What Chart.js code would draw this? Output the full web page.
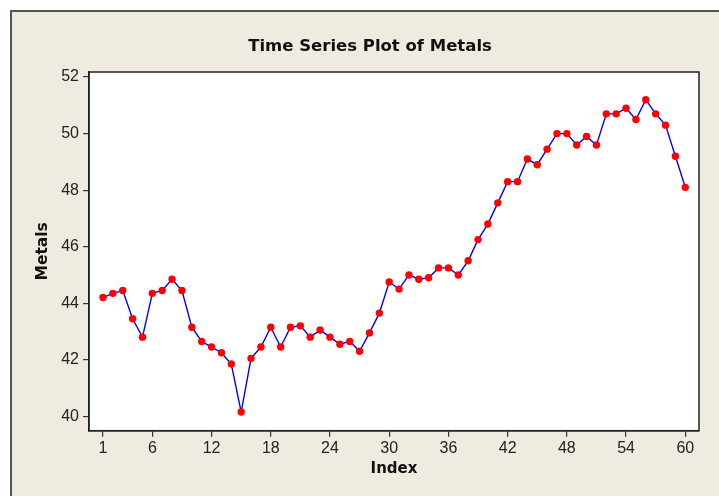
<!DOCTYPE html>
<html>
<head>
<meta charset="utf-8">
<script src="https://cdn.jsdelivr.net/npm/chart.js@4"></script>
<style>
  html, body { margin: 0; padding: 0; background: #fff; }
  #frame { position: absolute; left: 10px; top: 10px; width: 709px; height: 486px;
           background: #efebe1; border-top: 2px solid #555; border-left: 2px solid #555; box-sizing: border-box; }
  #c { position: absolute; left: 0; top: 0; }
</style>
</head>
<body>
<div id="frame"></div>
<canvas id="c" width="719" height="496"></canvas>
<script>
  // valores (Index 1..60)
  const INDEX = Array.from({ length: 60 }, (_, i) => i + 1);
  const METALS = [
    44.2, 44.35, 44.45, 43.45, 42.8, 44.35, 44.45, 44.85, 44.45, 43.15,
    42.65, 42.45, 42.25, 41.85, 40.15, 42.05, 42.45, 43.15, 42.45, 43.15,
    43.2, 42.8, 43.05, 42.8, 42.55, 42.65, 42.3, 42.95, 43.65, 44.75,
    44.5, 45.0, 44.85, 44.9, 45.25, 45.25, 45.0, 45.5, 46.25, 46.8,
    47.55, 48.3, 48.3, 49.1, 48.9, 49.45, 50.0, 50.0, 49.6, 49.9,
    49.6, 50.7, 50.7, 50.9, 50.5, 51.2, 50.7, 50.3, 49.2, 48.1
  ];
  const X_TICKS = [1, 6, 12, 18, 24, 30, 36, 42, 48, 54, 60];
  const Y_TICKS = [40, 42, 44, 46, 48, 50, 52];
  const TITULO = 'Time Series Plot of Metals';

  const tickFont = { family: 'Liberation Sans', size: 16 };
  const boldFont = (size) => ({ family: 'DejaVu Sans', size, weight: 'bold' });

  // fundo branco da area do grafico, moldura e titulo (centralizado como no Minitab)
  const plotFrame = {
    id: 'plotFrame',
    beforeDraw(chart) {
      const { ctx, chartArea: a } = chart;
      ctx.save();
      ctx.fillStyle = '#fff';
      ctx.fillRect(a.left, a.top, a.right - a.left, a.bottom - a.top);
      ctx.restore();
    },
    afterDraw(chart) {
      const { ctx, chartArea: a } = chart;
      ctx.save();
      ctx.strokeStyle = '#222';
      ctx.lineWidth = 1.5;
      ctx.strokeRect(a.left, a.top, a.right - a.left, a.bottom - a.top);
      ctx.fillStyle = '#111';
      ctx.font = 'bold 16.5px "DejaVu Sans"';
      ctx.textAlign = 'center';
      ctx.textBaseline = 'middle';
      ctx.fillText(TITULO, 370, 47);
      ctx.restore();
    }
  };

  new Chart(document.getElementById('c'), {
    type: 'line',
    data: {
      datasets: [{
        data: INDEX.map((x, i) => ({ x, y: METALS[i] })),
        borderColor: '#0000ff',
        borderWidth: 1.4,
        pointRadius: 3.7,
        pointBackgroundColor: '#ff0000',
        pointBorderColor: '#ff0000',
        pointBorderWidth: 0,
        tension: 0,
        fill: false
      }]
    },
    options: {
      responsive: false,
      animation: false,
      devicePixelRatio: 1,
      layout: { padding: { left: 0, right: 20, top: 72, bottom: 0 } },
      plugins: {
        legend: { display: false },
        tooltip: { enabled: false },
        title: { display: false }
      },
      scales: {
        x: {
          type: 'linear',
          min: -0.42, max: 61.39,
          afterBuildTicks: s => { s.ticks = X_TICKS.map(v => ({ value: v })); },
          afterFit: s => { s.height = 65.3; },
          ticks: { autoSkip: false, maxRotation: 0, color: '#222', font: tickFont, padding: 2, callback: v => String(v) },
          grid: { drawOnChartArea: false, drawTicks: true, tickLength: 6, color: '#333', lineWidth: 1.2 },
          border: { display: true, color: '#222', width: 1.5 },
          title: { display: true, text: 'Index', color: '#111', font: boldFont(15), padding: { top: 0, bottom: 18 } }
        },
        y: {
          type: 'linear',
          min: 39.49, max: 52.18,
          afterBuildTicks: s => { s.ticks = Y_TICKS.map(v => ({ value: v })); },
          afterFit: s => { s.width = 89; },
          ticks: { color: '#222', font: tickFont, padding: 4, callback: v => String(v) },
          grid: { drawOnChartArea: false, drawTicks: true, tickLength: 6, color: '#333', lineWidth: 1.2 },
          border: { display: true, color: '#222', width: 1.5 },
          title: { display: true, text: 'Metals', color: '#111', font: boldFont(15.5), padding: { top: 34, bottom: 0 } }
        }
      }
    },
    plugins: [plotFrame]
  });
</script>
</body>
</html>
